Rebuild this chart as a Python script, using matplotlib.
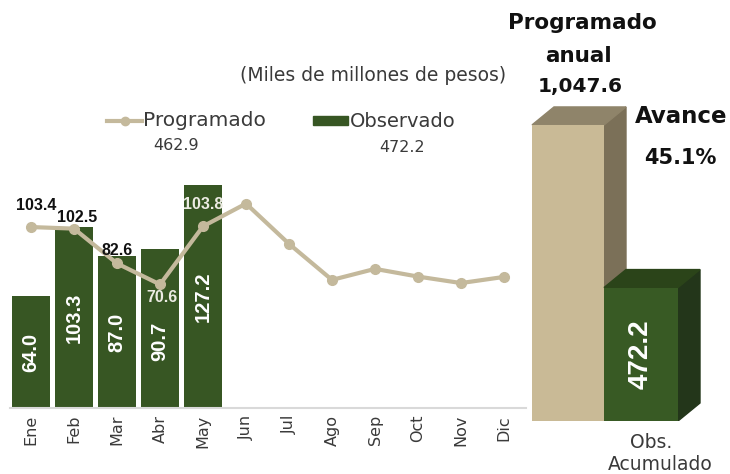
import matplotlib
matplotlib.use('Agg')
import matplotlib.pyplot as plt
from matplotlib.patches import Polygon, Rectangle
from matplotlib.lines import Line2D

# ---------------- data ----------------
months = ['Ene', 'Feb', 'Mar', 'Abr', 'May', 'Jun', 'Jul', 'Ago', 'Sep', 'Oct', 'Nov', 'Dic']
programado = [103.4, 102.5, 82.6, 70.6, 103.8, 116.8, 93.8, 73.2, 79.5, 75.1, 71.4, 74.9]
observado = [64.0, 103.3, 87.0, 90.7, 127.2]
programado_acum = 462.9
observado_acum = 472.2
programado_anual = 1047.6
avance_pct = 45.1

# ---------------- styles ----------------
GREEN = '#375623'
TAN_LINE = '#c4b99c'
TAN_FRONT = '#c9ba96'
TAN_TOP = '#8f846a'
TAN_SIDE = '#7b7058'
G_FRONT = '#385a24'
G_TOP = '#2b4419'
G_SIDE = '#23361a'
TXT = '#3a3a3a'
REG = 'DejaVu Sans'
NUM = 'Liberation Sans'

W, H = 730, 474
fig = plt.figure(figsize=(W / 100, H / 100), dpi=100)


def px_axes(l, t, r, b):
    return fig.add_axes([l / W, 1 - b / H, (r - l) / W, (b - t) / H])


# ---------------- main monthly chart ----------------
ax = px_axes(9.5, 163, 525.5, 408)
xs = list(range(len(months)))
ax.bar(range(len(observado)), observado, width=0.88, color=GREEN, zorder=2)
ax.plot(xs, programado, color=TAN_LINE, lw=3, marker='o', ms=7, zorder=3)
ax.set_xlim(-0.5, 11.5)
ax.set_ylim(0, 140)
for s in ['top', 'right', 'left']:
    ax.spines[s].set_visible(False)
ax.spines['bottom'].set_color('#d9d9d9')
ax.spines['bottom'].set_linewidth(1.5)
ax.set_yticks([])
ax.set_xticks(xs)
ax.set_xticklabels(months, rotation=90, fontsize=11.5, color=TXT, family=REG)
ax.tick_params(axis='x', length=0, pad=5)
ax.patch.set_alpha(0)

# values inside bars
for i, v in enumerate(observado):
    yc = v / 2 - (7 if i == 3 else 0)
    ax.text(i, yc, f'{v:.1f}', rotation=90, ha='center', va='center',
            color='white', fontsize=14.5, fontweight='bold', family=NUM, zorder=4)

# programado labels for months with observed data
offs = [(5, 22), (3, 11), (0, 13), (2, -13), (0, 22)]
for i in range(len(observado)):
    col = '#111111' if i < 3 else '#ecebe3'
    ax.annotate(f'{programado[i]:.1f}', (i, programado[i]), xytext=offs[i],
                textcoords='offset pixels', ha='center', va='center',
                fontsize=11.5, fontweight='bold', family=NUM, color=col, zorder=5)

# ---------------- right 3D cumulative bars ----------------
scale = 0.2826  # px per unit
rax = px_axes(520, 0, 730, 421)
rax.set_xlim(0, 210)
rax.set_ylim(0, 421 / scale)
rax.axis('off')
dx = 22
dy = 18 / scale

tx0, tw = 12, 72
rax.bar(tx0, programado_anual, width=tw, align='edge', color=TAN_FRONT, zorder=2)
rax.add_patch(Polygon([(tx0 + tw, 0), (tx0 + tw + dx, dy), (tx0 + tw + dx, programado_anual + dy),
                       (tx0 + tw, programado_anual)], closed=True, color=TAN_SIDE, zorder=1))
rax.add_patch(Polygon([(tx0, programado_anual), (tx0 + dx, programado_anual + dy),
                       (tx0 + tw + dx, programado_anual + dy), (tx0 + tw, programado_anual)],
                      closed=True, color=TAN_TOP, zorder=1))

gx0, gw = tx0 + tw, 74
rax.bar(gx0, observado_acum, width=gw, align='edge', color=G_FRONT, zorder=4)
rax.add_patch(Polygon([(gx0 + gw, 0), (gx0 + gw + dx, dy), (gx0 + gw + dx, observado_acum + dy),
                       (gx0 + gw, observado_acum)], closed=True, color=G_SIDE, zorder=3))
rax.add_patch(Polygon([(gx0, observado_acum), (gx0 + dx, observado_acum + dy),
                       (gx0 + gw + dx, observado_acum + dy), (gx0 + gw, observado_acum)],
                      closed=True, color=G_TOP, zorder=3))
rax.text(gx0 + gw / 2, observado_acum / 2, f'{observado_acum:.1f}', rotation=90,
         ha='center', va='center', color='white', fontsize=20, fontweight='bold',
         family=NUM, zorder=6)

# ---------------- overlay texts (pixel coordinates) ----------------
ov = fig.add_axes([0, 0, 1, 1], zorder=10)
ov.set_xlim(0, W)
ov.set_ylim(H, 0)
ov.axis('off')
ov.patch.set_alpha(0)

ov.text(373, 75, '(Miles de millones de pesos)', ha='center', va='center',
        fontsize=13.5, color=TXT, family=REG)

# legend
ov.add_line(Line2D([107, 142], [121, 121], color=TAN_LINE, lw=3))
ov.plot([124.5], [121], marker='o', ms=6, color=TAN_LINE)
ov.text(143, 120, 'Programado', ha='left', va='center', fontsize=14.5, color=TXT, family=REG)
ov.text(176, 145, f'{programado_acum:.1f}', ha='center', va='center', fontsize=11.5,
        color=TXT, family=REG)
ov.add_patch(Rectangle((313, 116), 35, 9, color=GREEN))
ov.text(350, 121, 'Observado', ha='left', va='center', fontsize=14, color=TXT, family=REG)
ov.text(402, 148, f'{observado_acum:.1f}', ha='center', va='center', fontsize=11.5,
        color=TXT, family=REG)

# right panel annotations
ov.text(582, 23, 'Programado', ha='center', va='center', fontsize=15.5,
        fontweight='bold', color='#111111', family=REG)
ov.text(578, 56, 'anual', ha='center', va='center', fontsize=15.5,
        fontweight='bold', color='#111111', family=REG)
ov.text(580, 86, f'{programado_anual:,.1f}', ha='center', va='center', fontsize=14.5,
        fontweight='bold', color='#111111', family=REG)
ov.text(681, 116, 'Avance', ha='center', va='center', fontsize=16.5,
        fontweight='bold', color='#111111', family=REG)
ov.text(680, 158, f'{avance_pct:.1f}%', ha='center', va='center', fontsize=15,
        fontweight='bold', color='#111111', family=REG)
ov.text(651, 442, 'Obs.', ha='center', va='center', fontsize=13.5, color=TXT, family=REG)
ov.text(660, 464, 'Acumulado', ha='center', va='center', fontsize=13.5, color=TXT, family=REG)

fig.savefig('out.png', dpi=100)
